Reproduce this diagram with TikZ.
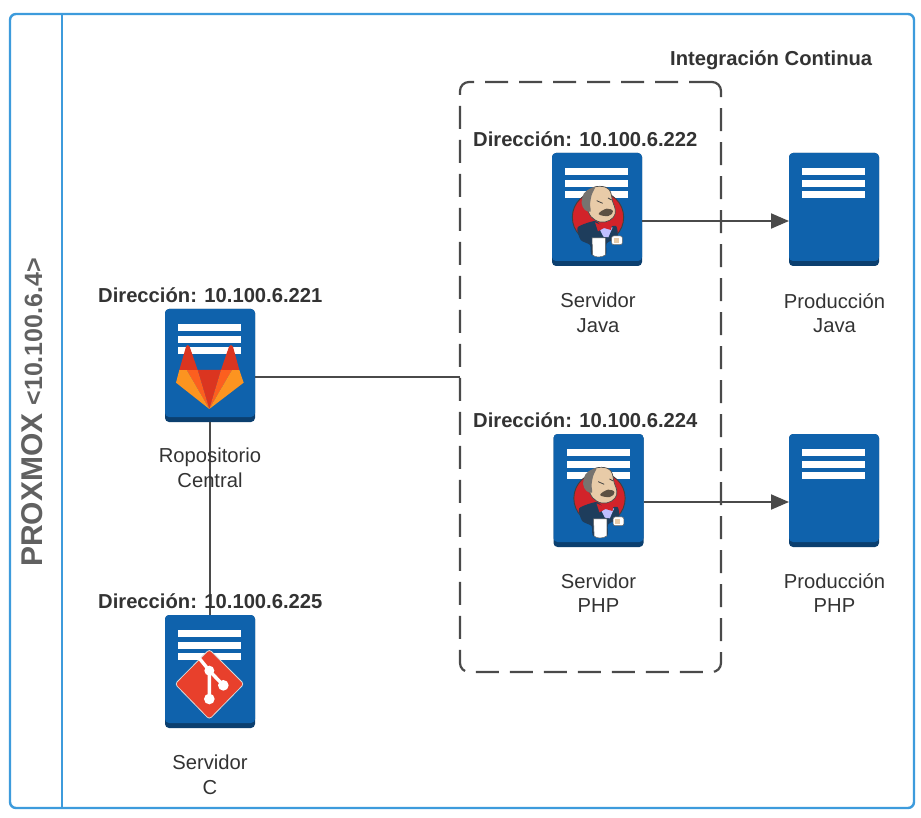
\documentclass[tikz,border=0pt]{standalone}
\usepackage{fontspec}
\setmainfont{Liberation Sans}
\usetikzlibrary{arrows.meta}
\definecolor{frameblue}{HTML}{3D9BDC}
\definecolor{srvblue}{HTML}{0F62AC}
\definecolor{srvdark}{HTML}{0B3F6F}
\definecolor{txt}{HTML}{333333}
\definecolor{conncol}{HTML}{4A4A4A}
\definecolor{glred}{HTML}{DB3520}
\definecolor{glmid}{HTML}{FC5F1F}
\definecolor{glout}{HTML}{FC9420}
\definecolor{gitred}{HTML}{E8402C}
\definecolor{jred}{HTML}{D2232A}
\definecolor{jnavy}{HTML}{1E3D5C}
\definecolor{jskin}{HTML}{E8CBA8}
\definecolor{jhair}{HTML}{77736F}
\tikzset{
  frameline/.style={draw=frameblue,line width=2.4pt},
  srvbox/.style={rectangle,rounded corners=4pt,fill=srvdark,minimum width=90pt,minimum height=113pt,inner sep=0pt,outer sep=0pt},
  srvtop/.style={fill=srvblue,rounded corners=4pt},
  srvbar/.style={fill=white},
  addr/.style={font=\fontsize{20.2}{24}\selectfont\bfseries,text=txt,inner sep=0pt},
  captext/.style={font=\fontsize{20.2}{24.5}\selectfont,text=txt,align=center,inner sep=0pt},
  conn/.style={draw=conncol,line width=2pt},
  arrowconn/.style={conn,-{Triangle[length=18pt,width=15pt]}},
  cibox/.style={draw=conncol,line width=2.2pt,rounded corners=9pt,dash pattern=on 23pt off 11pt,minimum width=261pt,minimum height=590pt,inner sep=0pt,outer sep=0pt}
}
\newcommand{\srv}[3]{%
  \node[srvbox] (#1) at (#2+45,#3+56.5) {};
  \fill[srvtop] (#2,#3) rectangle (#2+90,#3+108);
  \fill[srvbar] (#2+13,#3+15) rectangle (#2+76,#3+22);
  \fill[srvbar] (#2+13,#3+27) rectangle (#2+76,#3+34);
  \fill[srvbar] (#2+13,#3+38) rectangle (#2+76,#3+45);
}
\newcommand{\jenkinsicon}[2]{%
 \begin{scope}[shift={(#1,#2)},x=0.3333pt,y=-0.3333pt]
  \fill[jred,draw=black!75,line width=0.9pt] (174,232) circle (77);
  % body
  \fill[jnavy] plot[smooth cycle,tension=0.4] coordinates {(113,262) (165,243) (190,262) (228,258) (232,292) (200,310) (197,345) (155,345) (150,315) (122,300)};
  % shirt
  \fill[blue!25!white] (178,265) -- (218,262) -- (205,292) -- (190,290) -- cycle;
  % head
  \fill[jskin,draw=black!70,line width=0.7pt] plot[smooth cycle,tension=0.7] coordinates {(138,172) (150,148) (180,139) (208,150) (218,185) (226,210) (220,232) (195,246) (165,240) (145,215)};
  % hair
  \fill[jhair] plot[smooth cycle,tension=0.6] coordinates {(125,190) (132,160) (150,146) (165,142) (155,165) (150,195) (152,215) (135,210)};
  % moustache and brows
  \fill[black!60!jskin] plot[smooth cycle,tension=0.7] coordinates {(176,222) (200,206) (219,214) (205,228)};
  \draw[black!75,line width=0.8pt] (170,182) -- (188,190) (204,174) -- (215,180);
  % bow tie
  \fill[jred] (165,247) -- (190,258) -- (218,244) -- (213,270) -- (192,264) -- (174,274) -- cycle;
  % cup
  \fill[white,draw=black!60,line width=0.5pt] (156,294) -- (196,294) -- (196,345) .. controls (185,353) and (165,353) .. (158,345) -- cycle;
  % hand
  \fill[white,draw=black!60,line width=0.5pt,rounded corners=2pt] (215,288) rectangle (247,314);
  \fill[jskin] (222,294) rectangle (236,308);
 \end{scope}
}
\begin{document}
\begin{tikzpicture}[x=1pt,y=-1pt]
\useasboundingbox (0,0) rectangle (921,818);
\fill[white] (0,0) rectangle (921,818);
% frame
\draw[frameline,rounded corners=6pt] (10,14) rectangle (914,808);
\draw[frameline] (62,14) -- (62,808);
\node[rotate=90,anchor=base west,text=black!62,inner sep=0pt,font=\bfseries] (proxmox) at (42,567) {\fontsize{30}{32}\selectfont PROXMOX\hspace{8pt}\fontsize{25}{32}\selectfont <10.100.6.4>};
% CI box
\node[cibox] (ci) at (590.5,377) {};
\node[addr,anchor=west] (citit) at (670,60) {Integración Continua};
% servers
\srv{gitlab}{165}{309}
\srv{jjava}{552}{153}
\srv{jphp}{553.5}{434}
\srv{pjava}{789}{153}
\srv{pphp}{789}{434}
\srv{gitsrv}{165}{615}
% connectors
\draw[conn] ([yshift=-11.5pt]gitlab.east) -- ([yshift=-11.5pt]gitlab.east -| ci.west);
\draw[conn] (gitlab.south) -- (gitsrv.north);
\draw[arrowconn] ([yshift=-11.5pt]jjava.east) -- ([yshift=-11.5pt]pjava.west);
\draw[arrowconn] ([yshift=-11.5pt]jphp.east) -- ([yshift=-11.5pt]pphp.west);
% gitlab icon
\begin{scope}[shift={(150,290)},x=0.3333pt,y=-0.3333pt]
  \fill[glred] (178,357) -- (143,240) -- (213,240) -- cycle;
  \fill[glmid] (178,357) -- (143,240) -- (110,240) -- cycle;
  \fill[glmid] (178,357) -- (213,240) -- (246,240) -- cycle;
  \fill[glout] (178,357) -- (110,240) -- (88,240) -- (78,278) -- cycle;
  \fill[glout] (178,357) -- (246,240) -- (268,240) -- (281,278) -- cycle;
  \fill[glred] (88,240) -- (108,170) .. controls (112,163) and (115,163) .. (119,170) -- (143,240) -- cycle;
  \fill[glred] (213,240) -- (237,170) .. controls (241,163) and (245,163) .. (249,170) -- (268,240) -- cycle;
\end{scope}
% jenkins icons
\jenkinsicon{540}{140}
\jenkinsicon{541.5}{421}
% git icon
\begin{scope}[shift={(150,600)},x=0.3333pt,y=-0.3333pt]
  \fill[gitred,draw=white!85!black,line width=0.8pt,rounded corners=3pt] (178,148) -- (282,252) -- (178,358) -- (75,252) -- cycle;
  \draw[white,line width=3.4pt] (148,175) -- (178,212) -- (178,297);
  \draw[white,line width=3.4pt] (178,212) -- (220,256);
  \fill[white] (178,212) circle (15) (220,256) circle (16) (178,297) circle (16);
\end{scope}
% address labels
\node[addr,anchor=west] (a221) at (98,295) {Dirección: 10.100.6.221};
\node[addr,anchor=west] (a222) at (473,139) {Dirección: 10.100.6.222};
\node[addr,anchor=west] (a224) at (473,420) {Dirección: 10.100.6.224};
\node[addr,anchor=west] (a225) at (98,601) {Dirección: 10.100.6.225};
% captions
\node[captext] (c1) at (210,468) {Ropositorio\\Central};
\node[captext] (c2) at (598,313) {Servidor\\Java};
\node[captext] (c3) at (834.5,313) {Producción\\Java};
\node[captext] (c4) at (598.5,593) {Servidor\\PHP};
\node[captext] (c5) at (834.5,593) {Producción\\PHP};
\node[captext] (c6) at (210,775) {Servidor\\C};
\end{tikzpicture}
\end{document}
